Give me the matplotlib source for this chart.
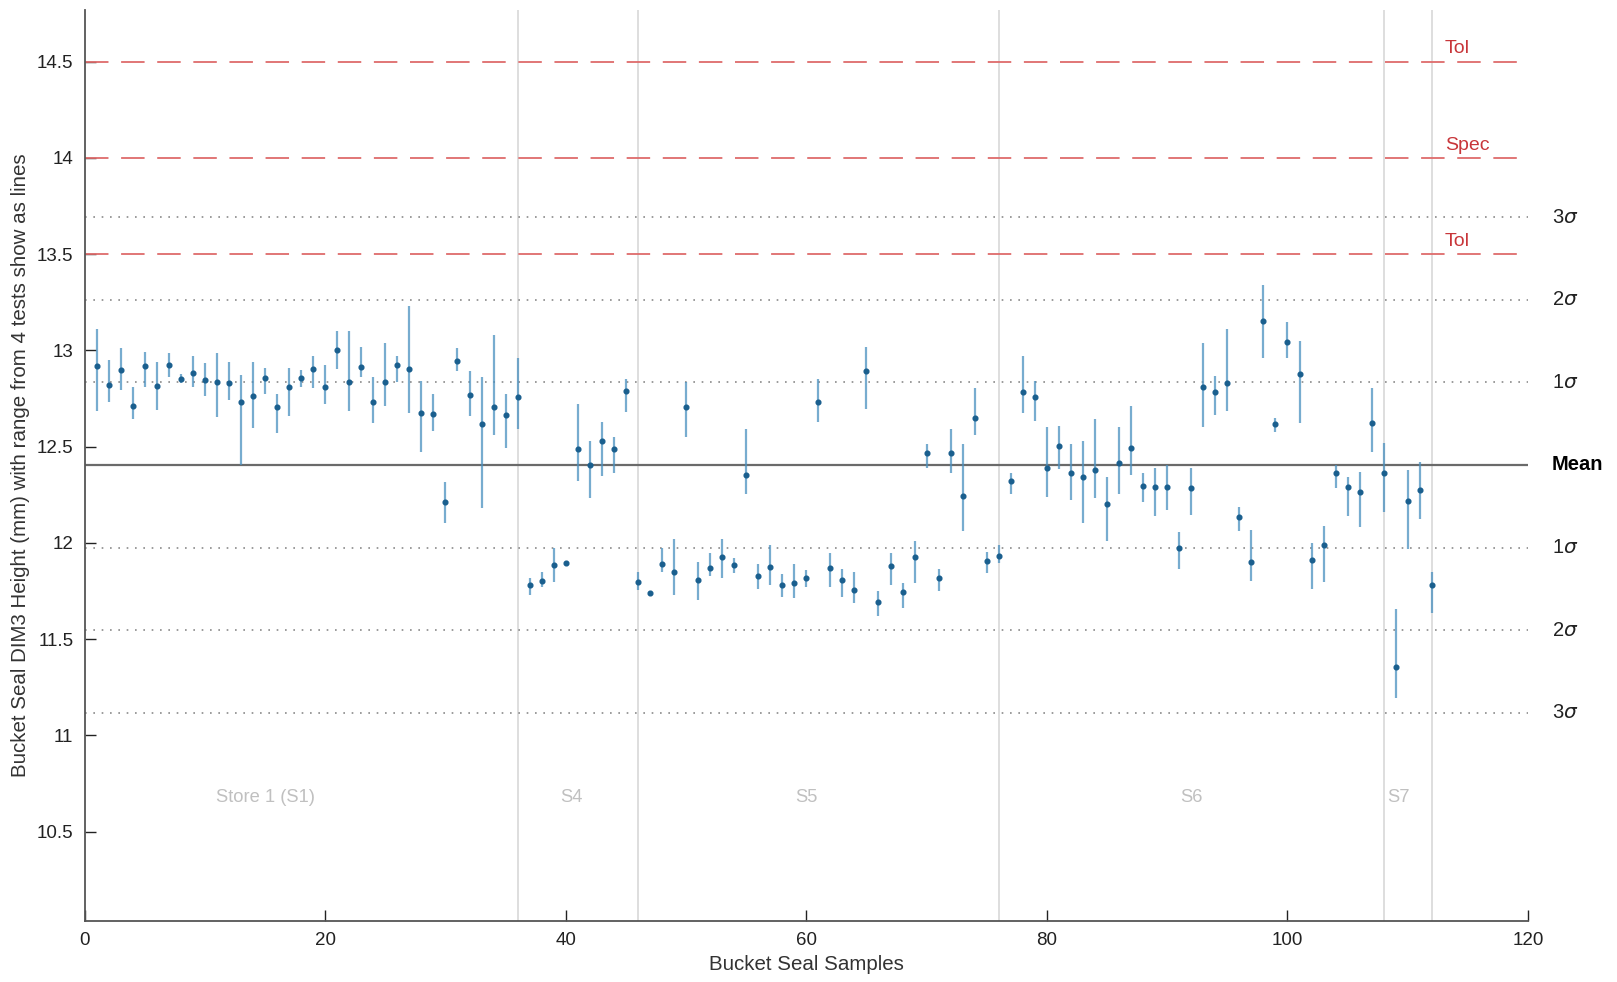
import matplotlib
matplotlib.use("Agg")
import matplotlib.pyplot as plt
import numpy as np

plt.rcParams['font.family'] = ['Liberation Sans', 'DejaVu Sans']

samples = list(range(1, 113))
centers = [12.919, 12.819, 12.897, 12.712, 12.919, 12.814, 12.923, 12.852, 12.881, 12.845,
           12.836, 12.829, 12.731, 12.765, 12.857, 12.706, 12.810, 12.857, 12.902, 12.810,
           13.003, 12.836, 12.916, 12.731, 12.838, 12.925, 12.906, 12.674, 12.670, 12.215,
           12.947, 12.769, 12.618, 12.708, 12.665, 12.758, 11.783, 11.802, 11.884, 11.898,
           12.490, 12.407, 12.530, 12.487, 12.791, 11.798, 11.742, 11.893, 11.851, 12.705,
           11.807, 11.871, 11.929, 11.886, 12.355, 11.829, 11.877, 11.782, 11.792, 11.817,
           12.730, 11.868, 11.805, 11.757, 12.895, 11.691, 11.880, 11.747, 11.929, 12.466,
           11.820, 12.466, 12.246, 12.648, 11.908, 11.932, 12.320, 12.786, 12.758, 12.391,
           12.503, 12.362, 12.341, 12.381, 12.203, 12.414, 12.492, 12.298, 12.292, 12.291,
           11.976, 12.284, 12.812, 12.783, 12.831, 12.133, 11.900, 13.152, 12.620, 13.042,
           12.878, 11.912, 11.990, 12.365, 12.289, 12.263, 12.625, 12.362, 11.355, 12.218,
           12.275, 11.782]
highs = [13.110, 12.951, 13.011, 12.809, 12.990, 12.939, 12.985, 12.878, 12.971, 12.933,
         12.985, 12.942, 12.873, 12.942, 12.911, 12.772, 12.911, 12.899, 12.971, 12.922,
         13.103, 13.101, 13.020, 12.860, 13.041, 12.971, 13.231, 12.841, 12.772, 12.319,
         13.011, 12.893, 12.860, 13.082, 12.772, 12.963, 11.820, 11.847, 11.972, 11.908,
         12.722, 12.530, 12.630, 12.552, 12.850, 11.847, 11.750, 11.972, 12.021, 12.838,
         11.899, 11.946, 12.021, 11.920, 12.592, 11.889, 11.990, 11.837, 11.889, 11.860,
         12.850, 11.949, 11.863, 11.851, 13.020, 11.752, 11.949, 11.790, 12.012, 12.515,
         11.863, 12.592, 12.513, 12.803, 11.955, 11.990, 12.362, 12.971, 12.841, 12.600,
         12.609, 12.513, 12.532, 12.642, 12.341, 12.600, 12.712, 12.362, 12.388, 12.405,
         12.059, 12.388, 13.041, 12.869, 13.110, 12.189, 12.068, 13.340, 12.651, 13.150,
         13.049, 11.998, 12.088, 12.405, 12.341, 12.371, 12.803, 12.521, 11.657, 12.379,
         12.419, 11.848]
lows = [12.686, 12.734, 12.795, 12.644, 12.812, 12.693, 12.864, 12.829, 12.812, 12.764,
        12.653, 12.743, 12.405, 12.596, 12.774, 12.573, 12.662, 12.812, 12.805, 12.722,
        12.902, 12.686, 12.860, 12.621, 12.712, 12.838, 12.674, 12.471, 12.582, 12.102,
        12.893, 12.662, 12.180, 12.561, 12.492, 12.590, 11.730, 11.770, 11.799, 11.886,
        12.322, 12.232, 12.350, 12.362, 12.682, 11.756, 11.735, 11.851, 11.730, 12.552,
        11.704, 11.829, 11.820, 11.842, 12.253, 11.761, 11.782, 11.721, 11.713, 11.773,
        12.630, 11.773, 11.721, 11.690, 12.694, 11.621, 11.782, 11.661, 11.790, 12.391,
        11.752, 12.362, 12.064, 12.561, 11.842, 11.895, 12.253, 12.674, 12.635, 12.240,
        12.384, 12.223, 12.102, 12.232, 12.012, 12.253, 12.353, 12.215, 12.142, 12.171,
        11.863, 12.145, 12.604, 12.665, 12.686, 12.064, 11.803, 12.963, 12.575, 12.963,
        12.622, 11.759, 11.799, 12.284, 12.142, 12.081, 12.474, 12.163, 11.193, 11.967,
        12.123, 11.635]

mean_val = 12.405
sigma_val = 0.429
limit_values = [14.5, 14.0, 13.5]
limit_labels = ["Tol", "Spec", "Tol"]
sigma_multiples = [3, 2, 1, -1, -2, -3]
separators = [36, 46, 76, 108, 112]
region_names = ["Store 1 (S1)", "S4", "S5", "S6", "S7"]
region_centers = [15, 40.5, 60, 92, 109.2]

fig = plt.figure(figsize=(16.17, 9.82), dpi=100)
ax = fig.add_axes([0.0523, 0.0621, 0.8927, 0.9274])

ax.set_xlim(0, 120)
ax.set_ylim(10.036, 14.767)

for s in separators:
    ax.axvline(s, color='#d4d4d4', lw=1.1, zorder=1)

for v, lab in zip(limit_values, limit_labels):
    ax.axhline(v, color='#de6b6b', lw=1.3, dashes=(13, 7), zorder=2)
    ax.text(113.1, v + 0.022, lab, color='#c8363a', fontsize=14, ha='left', va='bottom')

ax.axhline(mean_val, color='#6a6a6a', lw=1.6, zorder=2)
ax.text(122.0, mean_val, "Mean", fontsize=14.5, fontweight='bold', ha='left', va='center',
        clip_on=False)
for m in sigma_multiples:
    yv = mean_val + m * sigma_val
    ax.axhline(yv, color='#8a8a8a', lw=1.2, ls=(0, (1, 4)), zorder=2)
    ax.text(122.0, yv, f"{abs(m)}$\\sigma$", fontsize=14.5, ha='left', va='center',
            color='#222222', clip_on=False)

x = np.array(samples)
c = np.array(centers)
lo = np.array(lows)
hi = np.array(highs)
ax.vlines(x, lo, hi, color='#4a90bf', alpha=0.75, lw=1.6, zorder=3)
ax.plot(x, c, 'o', color='#1a5f8e', ms=3.4, zorder=4)

for name, xc in zip(region_names, region_centers):
    ax.text(xc, 10.68, name, color='#c0c0c0', fontsize=13.2, ha='center', va='center')

ax.set_xticks([0, 20, 40, 60, 80, 100, 120])
ax.set_yticks([10.5, 11, 11.5, 12, 12.5, 13, 13.5, 14, 14.5])
ax.set_yticklabels(["10.5", "11", "11.5", "12", "12.5", "13", "13.5", "14", "14.5"])
ax.tick_params(direction='in', length=8, width=1, colors='#222222', labelsize=13.5, pad=8)
for sp in ['top', 'right']:
    ax.spines[sp].set_visible(False)
for sp in ['left', 'bottom']:
    ax.spines[sp].set_color('#555555')
    ax.spines[sp].set_linewidth(1.3)

ax.set_xlabel("Bucket Seal Samples", fontsize=14.8, color='#333333', labelpad=4)
ax.set_ylabel("Bucket Seal DIM3 Height (mm) with range from 4 tests show as lines",
              fontsize=14.8, color='#333333', labelpad=5)

fig.savefig("out.png", dpi=100)
